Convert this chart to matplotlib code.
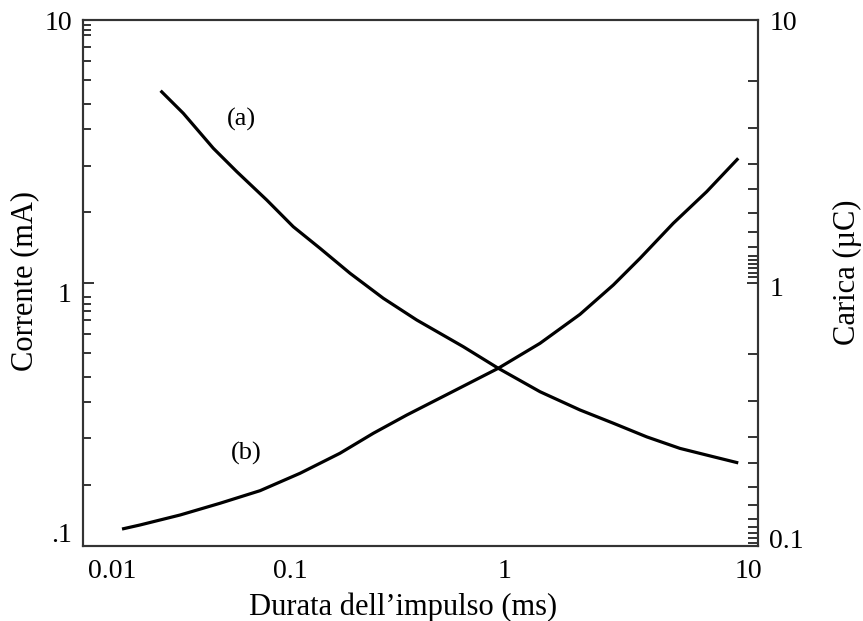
import numpy as np
import matplotlib.pyplot as plt
from matplotlib.ticker import FixedLocator, FixedFormatter, NullFormatter
from matplotlib.transforms import ScaledTranslation

plt.rcParams['font.family'] = ['Liberation Serif', 'DejaVu Serif']

# Curva (a): corrente (mA) in funzione della durata (ms)
t_a = [0.0203, 0.02597, 0.03596, 0.0464, 0.0642, 0.0856, 0.1144, 0.1584, 0.2273,
       0.3265, 0.5413, 0.791, 1.244, 1.919, 2.754, 3.957, 5.677, 8.147, 10.68]
i_a = [5.385, 4.418, 3.253, 2.650, 2.068, 1.637, 1.355, 1.089, 0.8747,
       0.7234, 0.5725, 0.474, 0.386, 0.329, 0.293, 0.260, 0.235, 0.2185, 0.207]

# Curva (b): carica (uC) in funzione della durata (ms)
t_b = [0.01336, 0.01624, 0.0251, 0.0387, 0.0597, 0.0921, 0.142, 0.204, 0.293,
       0.469, 0.791, 1.244, 1.919, 2.754, 3.679, 5.279, 7.58, 10.68]
q_b = [0.116, 0.1202, 0.1312, 0.1454, 0.1623, 0.189, 0.2252, 0.2683, 0.3147,
       0.382, 0.474, 0.5898, 0.76, 0.9826, 1.241, 1.687, 2.224, 2.979]

x_ticks = [0.01, 0.1, 1, 10]
x_labels = ['0.01', '0.1', '1', '10']
y_ticks = [0.1, 1, 10]
left_labels = ['.1', '1', '10']
right_labels = ['0.1', '1', '10']

# tacche secondarie (disegnate a mano nell'originale, non regolari)
left_minor = [9.57, 9.16, 8.77, 7.89, 6.98, 5.91, 4.80, 3.85, 2.79, 1.86,
              0.885, 0.832, 0.783, 0.723, 0.640, 0.542, 0.439, 0.353, 0.258, 0.171]
right_minor = [5.86, 3.88, 2.83, 2.28, 1.84, 1.56, 1.37, 1.27, 1.22, 1.18, 1.14, 1.09, 1.05,
               0.537, 0.356, 0.259, 0.207, 0.168, 0.143, 0.127, 0.118, 0.112, 0.107, 0.103]

fig = plt.figure(figsize=(8.63, 6.21), dpi=100)
ax = fig.add_axes([83/863, 75/621, 675/863, 526/621])
ax2 = ax.twinx()

ax.plot(t_a, i_a, color='black', lw=2.3, solid_capstyle='butt', solid_joinstyle='round')
ax2.plot(t_b, q_b, color='black', lw=2.3, solid_capstyle='butt', solid_joinstyle='round')

for a in (ax, ax2):
    a.set_xscale('log')
    a.set_yscale('log')
    a.set_xlim(0.00875, 13.23)
    a.set_ylim(0.1, 10)
    for s in a.spines.values():
        s.set_linewidth(1.5)
        s.set_color('#333333')

ax.xaxis.set_major_locator(FixedLocator(x_ticks))
ax.xaxis.set_major_formatter(FixedFormatter(x_labels))
ax.xaxis.set_minor_locator(FixedLocator([]))
ax.tick_params(axis='x', which='both', length=0, pad=9, labelsize=20)

ax.yaxis.set_major_locator(FixedLocator(y_ticks))
ax.yaxis.set_major_formatter(FixedFormatter(left_labels))
ax.yaxis.set_minor_locator(FixedLocator(left_minor))
ax.yaxis.set_minor_formatter(NullFormatter())
ax.tick_params(axis='y', which='major', direction='in', length=8, width=1.4,
               color='#333333', pad=8, labelsize=20)
ax.tick_params(axis='y', which='minor', direction='in', length=6, width=1.4, color='#333333')

ax2.yaxis.set_major_locator(FixedLocator(y_ticks))
ax2.yaxis.set_major_formatter(FixedFormatter(right_labels))
ax2.yaxis.set_minor_locator(FixedLocator(right_minor))
ax2.yaxis.set_minor_formatter(NullFormatter())
ax2.tick_params(axis='y', which='major', direction='in', length=8, width=1.4,
                color='#333333', pad=8, labelsize=20)
ax2.tick_params(axis='y', which='minor', direction='in', length=7, width=1.4, color='#333333')

ax.text(0.049, 4.17, '(a)', ha='center', va='center', fontsize=19)
ax2.text(0.0513, 0.2257, '(b)', ha='center', va='center', fontsize=19)

ax.set_xlabel("Durata dell\u2019impulso (ms)", fontsize=22, va='center')
ax.xaxis.set_label_coords(0.474, -0.116)
ax.set_ylabel('Corrente (mA)', fontsize=22, va='center')
ax.yaxis.set_label_coords(-0.086, 0.504)
ax2.set_ylabel('Carica (\u00b5C)', fontsize=22, va='center', rotation=90)
ax2.yaxis.set_label_coords(1.132, 0.521)

# le etichette nell'originale non cadono esattamente sulle decadi
fig.canvas.draw()
def nudge(labels, shifts):
    for lab, (dx, dy) in zip(labels, shifts):
        lab.set_transform(lab.get_transform() + ScaledTranslation(dx/100, dy/100, fig.dpi_scale_trans))

nudge(ax.get_xticklabels(), [(16.7, 0), (-17.6, 0), (-14.9, 0), (15.8, 0)])
nudge(ax.get_yticklabels(), [(0, 13), (0, -9), (0, 0)])
nudge(ax2.get_yticklabels(), [(0, 8), (0, -4), (0, 0)])

fig.savefig('out.png', dpi=100)
